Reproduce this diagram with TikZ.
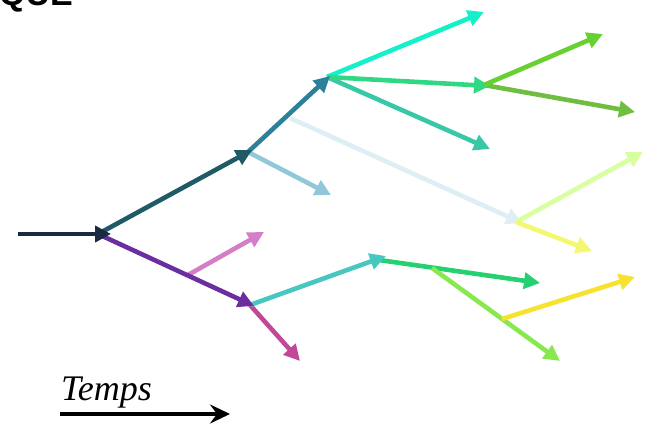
\documentclass[tikz,border=0pt]{standalone}
\usepackage{fontspec}
\setmainfont{Liberation Serif}
\newfontfamily\quefont{Liberation Sans}
\usetikzlibrary{arrows.meta}
\begin{document}
\begin{tikzpicture}[x=1pt,y=-1pt,
  br/.style={line width=4.6pt,-{Triangle[length=16pt,width=16pt]}}]
\useasboundingbox (0,0) rectangle (646,430);
\node[anchor=base west,inner sep=0pt,font=\quefont\bfseries\fontsize{34}{34}\selectfont] (que) at (-1,6) {QUE};
% coordinates
\coordinate (r0) at (18,234);
\coordinate (A) at (111,234);
\coordinate (B) at (252,150);
\coordinate (C) at (254,306);
\coordinate (D) at (330,76);
\coordinate (E) at (522,223);
\coordinate (F) at (490,86);
\coordinate (G) at (386,256);
\coordinate (bd) at (290,118);
\coordinate (ac) at (188,275);
\coordinate (gh) at (432,268);
\coordinate (gj) at (502,319);
\coordinate (t1) at (331,195);
\coordinate (t2) at (484,12);
\coordinate (t3) at (490,149);
\coordinate (t4) at (603,34);
\coordinate (t5) at (635,112);
\coordinate (t6) at (643,152);
\coordinate (t7) at (592,251);
\coordinate (t8) at (264,232);
\coordinate (t9) at (300,361);
\coordinate (t10) at (540,283);
\coordinate (t11) at (560,361);
\coordinate (t12) at (635,277);
\coordinate (A0) at (98,234);
\coordinate (B0) at (248,152);
\coordinate (C0) at (250,305);
\coordinate (D0) at (327,77);
\coordinate (E0) at (516,222);
\coordinate (F0) at (484,85);
\coordinate (G0) at (379,260);
% branches (background first)
\draw[br,color={rgb,255:red,221;green,238;blue,244}] (bd) -- (E);
\draw[br,color={rgb,255:red,144;green,200;blue,218}] (B0) -- (t1);
\draw[br,color={rgb,255:red,20;green,240;blue,200}] (D0) -- (t2);
\draw[br,color={rgb,255:red,56;green,200;blue,166}] (D0) -- (t3);
\draw[br,color={rgb,255:red,112;green,190;blue,64}] (F0) -- (t5);
\draw[br,color={rgb,255:red,48;green,216;blue,132}] (D0) -- (F);
\draw[br,color={rgb,255:red,104;green,208;blue,48}] (F0) -- (t4);
\draw[br,color={rgb,255:red,216;green,255;blue,160}] (E0) -- (t6);
\draw[br,color={rgb,255:red,244;green,248;blue,112}] (E0) -- (t7);
\draw[br,color={rgb,255:red,46;green,128;blue,154}] (B0) -- (D);
\draw[br,color={rgb,255:red,212;green,126;blue,200}] (ac) -- (t8);
\draw[br,color={rgb,255:red,192;green,72;blue,150}] (C0) -- (t9);
\draw[br,color={rgb,255:red,36;green,208;blue,112}] (G0) -- (t10);
\draw[br,color={rgb,255:red,136;green,232;blue,80}] (gh) -- (t11);
\draw[br,color={rgb,255:red,248;green,226;blue,48}] (gj) -- (t12);
\draw[br,color={rgb,255:red,72;green,198;blue,192}] (C0) -- (G);
\draw[br,color={rgb,255:red,31;green,90;blue,102}] (A0) -- (B);
\draw[br,color={rgb,255:red,106;green,46;blue,160}] (A0) -- (C);
\draw[br,color={rgb,255:red,26;green,42;blue,64}] (r0) -- (A);
% time axis
\node[anchor=base west,inner sep=0pt,font=\itshape\fontsize{36}{36}\selectfont] (temps) at (61,401) {Temps};
\coordinate (ta) at (60,414);
\coordinate (tb) at (230,414);
\draw[line width=3.4pt,-{Stealth[length=20pt,width=19pt,inset=7pt]}] (ta) -- (tb);
\end{tikzpicture}
\end{document}
